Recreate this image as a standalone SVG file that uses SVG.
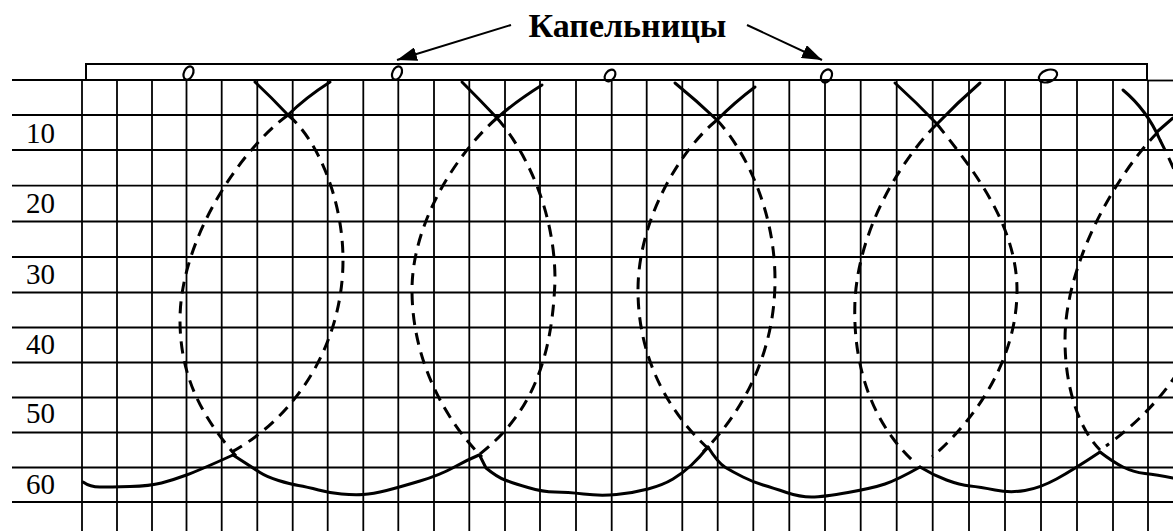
<svg xmlns="http://www.w3.org/2000/svg" width="1173" height="531" viewBox="0 0 1173 531">
  <style>
    .grid line { stroke: #000; stroke-width: 1.8; }
    .lbl { font-family: "Liberation Serif", "Times New Roman", serif; font-size: 29px; fill: #000; }
    .title { font-family: "Liberation Serif", "Times New Roman", serif; font-size: 34px; font-weight: bold; fill: #000; }
    .solid { fill: none; stroke: #000; stroke-width: 3; stroke-linecap: round; stroke-linejoin: round; }
    .dash { fill: none; stroke: #000; stroke-width: 3; stroke-dasharray: 12 8; stroke-linecap: butt; }
    .drip { fill: none; stroke: #000; stroke-width: 2.2; }
    .arrow { stroke: #000; stroke-width: 2; fill: none; }
  </style>
  <defs>
    <marker id="ah" markerUnits="userSpaceOnUse" markerWidth="22" markerHeight="14" refX="20" refY="7" orient="auto">
      <path d="M0,0 L20,7 L0,14 z" fill="#000"/>
    </marker>
  </defs>
  <rect width="1173" height="531" fill="#fff"/>

  <g id="grid" class="grid">
    <line x1="12" y1="80" x2="86" y2="80"/>
    <line x1="1148" y1="80.5" x2="1173" y2="80.5"/>
    <line x1="12" y1="115" x2="1173" y2="115"/>
    <line x1="12" y1="150" x2="1173" y2="150"/>
    <line x1="12" y1="185.7" x2="1173" y2="185.7"/>
    <line x1="12" y1="221.5" x2="1173" y2="221.5"/>
    <line x1="12" y1="257" x2="1173" y2="257"/>
    <line x1="12" y1="292.5" x2="1173" y2="292.5"/>
    <line x1="12" y1="327.5" x2="1173" y2="327.5"/>
    <line x1="12" y1="362.5" x2="1173" y2="362.5"/>
    <line x1="12" y1="397.5" x2="1173" y2="397.5"/>
    <line x1="12" y1="432.5" x2="1173" y2="432.5"/>
    <line x1="12" y1="467.5" x2="1173" y2="467.5"/>
    <line x1="12" y1="502" x2="1173" y2="502"/>
    <line x1="82" y1="80" x2="82" y2="531"/>
    <line x1="117" y1="80" x2="117" y2="531"/>
    <line x1="152" y1="80" x2="152" y2="531"/>
    <line x1="186.5" y1="80" x2="186.5" y2="531"/>
    <line x1="221.7" y1="80" x2="221.7" y2="531"/>
    <line x1="257.3" y1="80" x2="257.3" y2="531"/>
    <line x1="292.7" y1="80" x2="292.7" y2="531"/>
    <line x1="327.7" y1="80" x2="327.7" y2="531"/>
    <line x1="363.3" y1="80" x2="363.3" y2="531"/>
    <line x1="398.3" y1="80" x2="398.3" y2="531"/>
    <line x1="434" y1="80" x2="434" y2="531"/>
    <line x1="469.3" y1="80" x2="469.3" y2="531"/>
    <line x1="505" y1="80" x2="505" y2="531"/>
    <line x1="540" y1="80" x2="540" y2="531"/>
    <line x1="576" y1="80" x2="576" y2="531"/>
    <line x1="611.7" y1="80" x2="611.7" y2="531"/>
    <line x1="646.7" y1="80" x2="646.7" y2="531"/>
    <line x1="682.3" y1="80" x2="682.3" y2="531"/>
    <line x1="717.7" y1="80" x2="717.7" y2="531"/>
    <line x1="753.3" y1="80" x2="753.3" y2="531"/>
    <line x1="789.3" y1="80" x2="789.3" y2="531"/>
    <line x1="825" y1="80" x2="825" y2="531"/>
    <line x1="860.7" y1="80" x2="860.7" y2="531"/>
    <line x1="896.7" y1="80" x2="896.7" y2="531"/>
    <line x1="932.7" y1="80" x2="932.7" y2="531"/>
    <line x1="969" y1="80" x2="969" y2="531"/>
    <line x1="1005" y1="80" x2="1005" y2="531"/>
    <line x1="1041" y1="80" x2="1041" y2="531"/>
    <line x1="1077" y1="80" x2="1077" y2="531"/>
    <line x1="1113" y1="80" x2="1113" y2="531"/>
    <line x1="1148" y1="80" x2="1148" y2="531"/>
  </g>

  <g id="depth-labels">
    <text class="lbl" x="26" y="143">10</text>
    <text class="lbl" x="26" y="213">20</text>
    <text class="lbl" x="26" y="283.5">30</text>
    <text class="lbl" x="26" y="353.5">40</text>
    <text class="lbl" x="26" y="423">50</text>
    <text class="lbl" x="26" y="494">60</text>
  </g>

  <g id="pipe">
    <rect x="86" y="64" width="1061" height="16" fill="#fff" stroke="#000" stroke-width="2"/>
  </g>

  <g id="dripper-1"><ellipse class="drip" cx="188.5" cy="73" rx="4.5" ry="7" transform="rotate(25 188.5 73)"/></g>
  <g id="dripper-2"><ellipse class="drip" cx="397" cy="73" rx="4.5" ry="7" transform="rotate(25 397 73)"/></g>
  <g id="dripper-3"><ellipse class="drip" cx="610" cy="75.5" rx="4.5" ry="6.5" transform="rotate(40 610 75.5)"/></g>
  <g id="dripper-4"><ellipse class="drip" cx="826.5" cy="76" rx="5" ry="7" transform="rotate(30 826.5 76)"/></g>
  <g id="dripper-5"><ellipse class="drip" cx="1048" cy="76" rx="9.5" ry="6" transform="rotate(-20 1048 76)"/></g>

  <g id="title">
    <text class="title" x="627.5" y="37" text-anchor="middle">Капельницы</text>
  </g>

  <g id="connectors">
    <line class="arrow" x1="511" y1="25" x2="397" y2="60" marker-end="url(#ah)"/>
    <line class="arrow" x1="747" y1="25" x2="822" y2="60" marker-end="url(#ah)"/>
  </g>

  <g id="contours">
    <!-- drop 1 -->
    <path class="solid" d="M255,82 Q272,98 288,115"/>
    <path class="solid" d="M330,82 Q305,98 288,115"/>
    <path class="dash" d="M288,115 C318,140 343,200 343,260 C343,340 300,415 230,453"/>
    <path class="dash" d="M288,115 C240,150 180,240 180,320 C180,380 205,420 236,456"/>
    <!-- drop 2 -->
    <path class="solid" d="M462,82 Q480,100 497,118"/>
    <path class="solid" d="M542,85 Q515,102 497,118"/>
    <path class="dash" d="M497,118 C525,150 555,210 555,280 C552,370 525,420 476,457"/>
    <path class="dash" d="M497,118 C460,150 412,220 412,290 C412,360 445,420 482,457"/>
    <!-- drop 3 -->
    <path class="solid" d="M675,83 Q697,101 717,120"/>
    <path class="solid" d="M755,87 Q735,102 717,120"/>
    <path class="dash" d="M717,120 C745,150 775,210 775,280 C775,350 745,410 703,452"/>
    <path class="dash" d="M717,120 C680,150 638,220 638,290 C638,360 670,415 712,452"/>
    <!-- drop 4 -->
    <path class="solid" d="M895,83 Q917,103 937,124"/>
    <path class="solid" d="M980,83 Q957,103 937,124"/>
    <path class="dash" d="M937,124 C965,160 1017,220 1017,290 C1017,360 975,420 932,457"/>
    <path class="dash" d="M937,124 C915,145 860,215 855,300 C852,370 875,425 912,460"/>
    <!-- drop 5 (partial) -->
    <path class="solid" d="M1123,90 Q1147,110 1160,140"/>
    <path class="solid" d="M1173,118 L1158,131"/>
    <path class="dash" d="M1160,140 C1165,150 1170,160 1175,172"/>
    <path class="dash" d="M1158,132 C1120,170 1065,260 1065,340 C1065,390 1080,430 1100,450"/>
    <path class="dash" d="M1178,372 C1160,400 1135,425 1106,446"/>
    <!-- bottom wetting front -->
    <path class="solid" d="M83,482 Q90,487 100,487 Q110,487 130,486.5 Q150,486 161.5,483 Q173,480 186.5,475 Q200,470 233,455"/>
    <path class="solid" d="M233,455 Q253,468 260,472.5 Q267,477 278.5,480.5 Q290,484 298.5,485.5 Q307,487 318.5,490 Q330,493 341.5,494 Q353,495 363,494.5 Q373,494 386.5,490.5 Q400,487 420,481 Q440,475 453.5,467.5 Q467,460 479,455"/>
    <path class="solid" d="M480,456 L486,468 Q497,477 505,480 Q513,483 528,487.5 Q543,492 555,492 Q567,492 583.5,494 Q600,496 616.5,494.5 Q633,493 648,489 Q663,485 673,479 Q683,473 691.5,465 Q700,457 708,447"/>
    <path class="solid" d="M708,447 Q718,463 725.5,467.5 Q733,472 743,477 Q753,482 763,485 Q773,488 786.5,492.5 Q800,497 811.5,497 Q823,497 848,492.5 Q873,488 885,484 Q897,480 920,467"/>
    <path class="solid" d="M920,467 Q933,475 946.5,480 Q960,485 970,486 Q980,487 995,490 Q1010,493 1025,490.5 Q1040,488 1056.5,479 Q1073,470 1100,452"/>
    <path class="solid" d="M1100,452 Q1113,462 1123,467 Q1133,472 1145,473.5 Q1157,475 1173,478"/>
  </g>
</svg>
